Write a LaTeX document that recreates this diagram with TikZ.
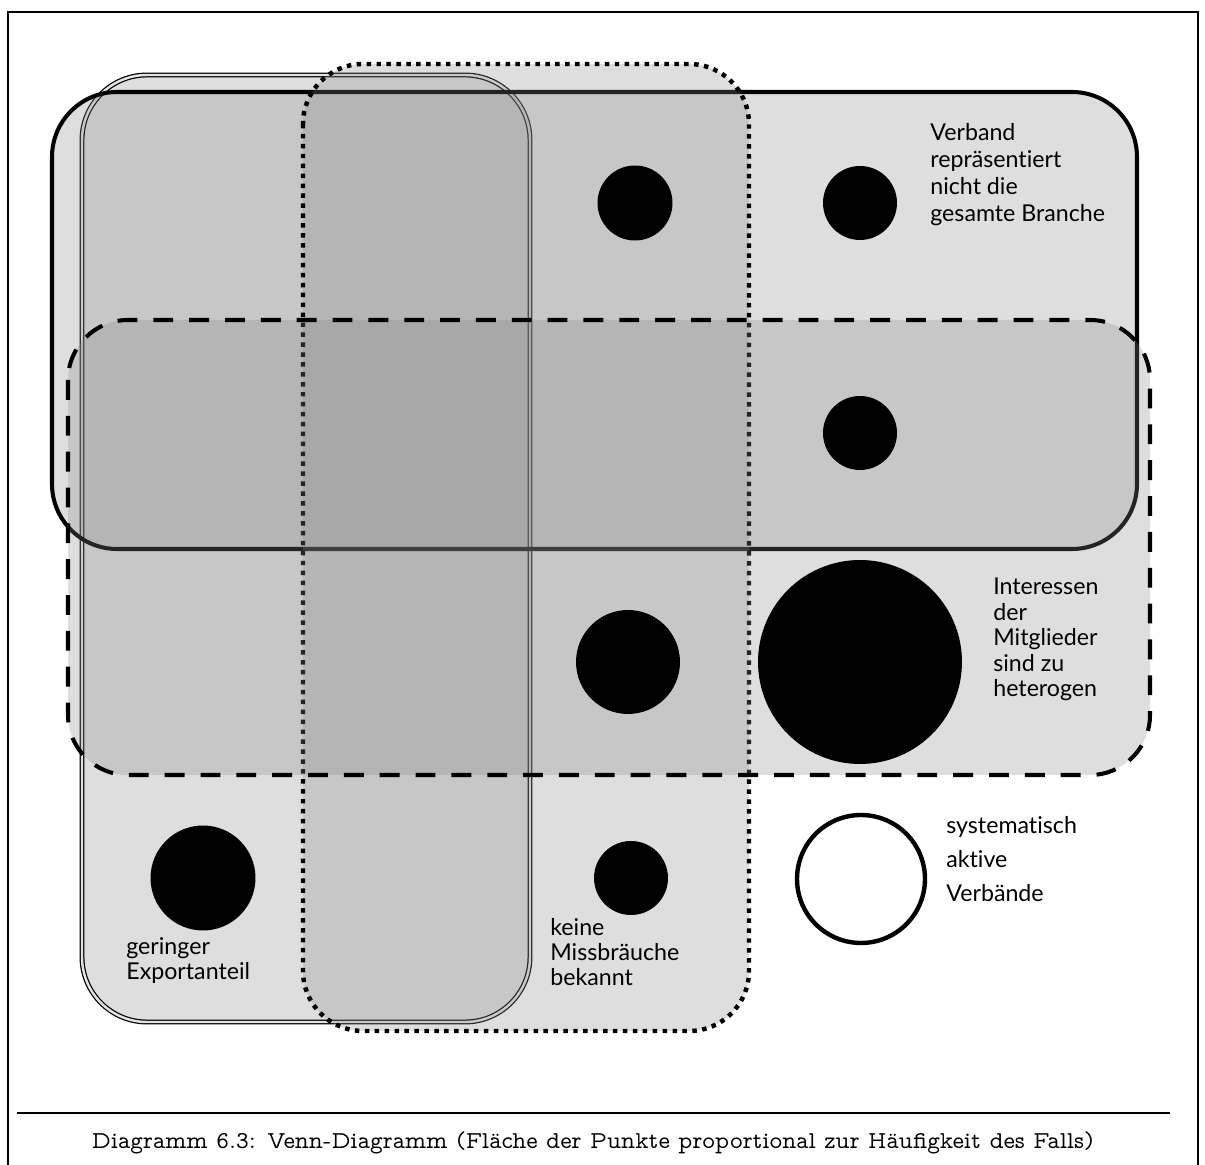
\documentclass[tikz,border=0pt]{standalone}
\usepackage{fontspec}
\usepackage{tikz}
\usetikzlibrary{positioning}
\newfontfamily\labelfont[Ligatures=NoCommon]{Lato}

\begin{document}
\begin{tikzpicture}[x=0.02cm, y=-0.02cm,
		setfill/.style={fill={rgb,255:red,134;green,134;blue,134}, fill opacity=0.27},
		dot/.style={circle, fill=black, inner sep=0pt},
		lbl/.style={anchor=north west, inner sep=0pt, align=left, font=\labelfont\fontsize{13.2}{15.3}\selectfont}]
		\useasboundingbox (0,0) rectangle (1205,1165);
		\draw[line width=1.1pt] (8,1180) -- (8,12) -- (1198,12) -- (1198,1180);
		\draw[setfill, rounded corners=1.3cm, line width=0.7pt, double=gray!22, double distance=1.4pt] (82,75) rectangle (530,1022);
		\draw[setfill, rounded corners=1.3cm, line width=2.3pt] (52,92) rectangle (1137,549);
		\draw[setfill, rounded corners=1.2cm, line width=2.55pt, dash pattern=on 2.55pt off 3.1pt] (303,64) rectangle (749,1031);
		\draw[setfill, rounded corners=1.2cm, line width=2.3pt, dash pattern=on 11.3pt off 9.1pt] (68,320) rectangle (1150,775);
		\node[dot, minimum size=1.5cm] (d1) at (635,203) {};
		\node[dot, minimum size=1.48cm] (d2) at (860,203) {};
		\node[dot, minimum size=1.48cm] (d3) at (860,433) {};
		\node[dot, minimum size=2.08cm] (d4) at (628,662) {};
		\node[dot, minimum size=4.08cm] (d5) at (860,662) {};
		\node[dot, minimum size=2.1cm] (d6) at (203,878) {};
		\node[dot, minimum size=1.48cm] (d7) at (631,878) {};
		\node[circle, draw, line width=2.5pt, fill=white, minimum size=2.56cm, inner sep=0pt] (legend) at (861,879) {};
		\node[lbl] (verband) at (930,123) {Verband\\repräsentiert\\nicht die\\gesamte Branche};
		\node[lbl, font=\labelfont\fontsize{13.2}{14.5}\selectfont] (interessen) at (993,578) {Interessen\\der\\Mitglieder\\sind zu\\heterogen};
		\node[lbl, font=\labelfont\fontsize{13.2}{19.3}\selectfont] (aktiv) at (946,816) {systematisch\\aktive\\Verbände};
		\node[lbl, font=\labelfont\fontsize{13.2}{14.3}\selectfont] (export) at (126,937) {geringer\\Exportanteil};
		\node[lbl, font=\labelfont\fontsize{13.2}{14.3}\selectfont] (missbrauch) at (550,918) {keine\\Missbräuche\\bekannt};
		\draw[line width=1.1pt] (17,1113) -- (1170,1113);
		\node[anchor=base, font=\fontfamily{lmvtt}\fontsize{13.8}{15}\selectfont] (caption) at (593,1149) {Diagramm 6.3: Venn-Diagramm (Fläche der Punkte proportional zur Häufigkeit des Falls)};
	\end{tikzpicture}
\end{document}
